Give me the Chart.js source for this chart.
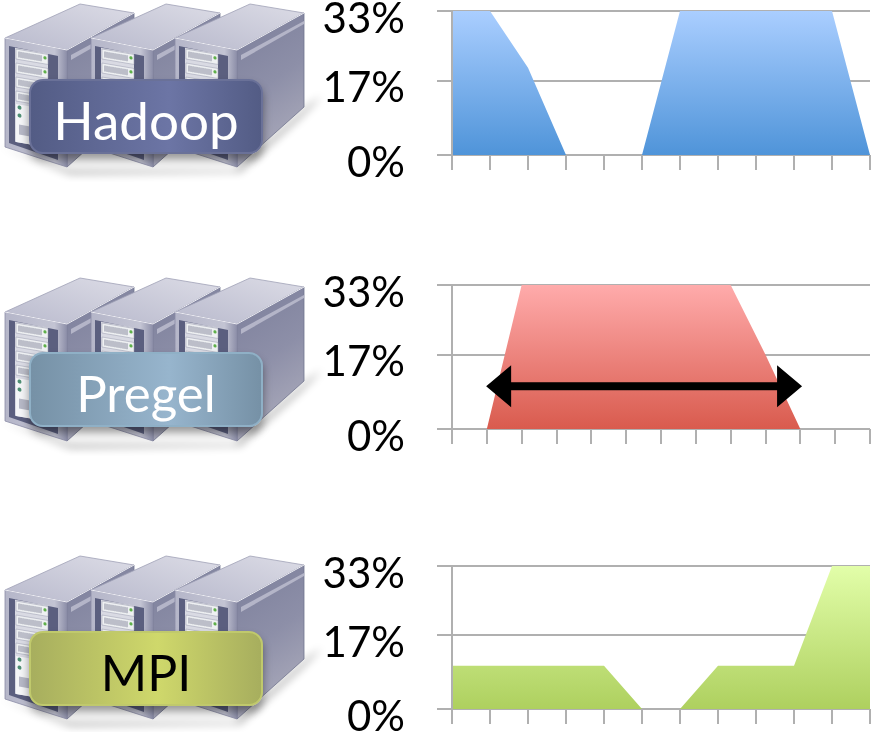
<!DOCTYPE html>
<html>
<head>
<meta charset="utf-8">
<title>Hadoop, Pregel, MPI</title>
<script src="https://cdn.jsdelivr.net/npm/chart.js@4"></script>
<style>
  html, body { margin: 0; background: #fff; }
  #page { position: relative; width: 873px; height: 732px; overflow: hidden; }
  #page canvas { position: absolute; left: 300px; }
  .servers { position: absolute; left: 0; width: 330px; height: 185px; }
  .tag {
    position: absolute; left: 29px; width: 234px; height: 75px; box-sizing: border-box;
    border-radius: 14px; border: 2px solid; text-align: center;
    font: 50px/78px Lato, sans-serif; box-shadow: 0 6px 9px rgba(0,0,0,.4);
  }
  #tagHadoop { top: 79px; font-size: 53px; color: #fff; border-color: #6a7198;
    background: linear-gradient(90deg, #535c85, #6c75a5 60%, #535c85); }
  #tagPregel { top: 352px; font-size: 51px; color: #fff; border-color: #8fb0c6;
    background: linear-gradient(90deg, #7691a6, #97b5cd 60%, #7691a6); }
  #tagMPI { top: 631px; color: #000; border-color: #c0c96c;
    background: linear-gradient(90deg, #a7ae5e, #cfd86b 55%, #a7ae5e); }
</style>
</head>
<body>
<div id="page">
  <svg width="0" height="0" style="position:absolute">
    <defs>
      <linearGradient id="gTop" x1="0" y1="1" x2="1" y2="0">
        <stop offset="0" stop-color="#b9bacd"/><stop offset="1" stop-color="#dcdce6"/>
      </linearGradient>
      <linearGradient id="gSide" x1="0" y1="0" x2="0.3" y2="1">
        <stop offset="0" stop-color="#7c7f9b"/><stop offset=".55" stop-color="#8d8fa8"/><stop offset="1" stop-color="#a9a9ba"/>
      </linearGradient>
      <linearGradient id="gFront" x1="0" y1="0" x2="1" y2="0">
        <stop offset="0" stop-color="#b5b6c9"/><stop offset=".8" stop-color="#c3c4d3"/><stop offset="1" stop-color="#8c8ea8"/>
      </linearGradient>
      <filter id="soft"><feGaussianBlur stdDeviation="4"/></filter>
      <g id="bay">
        <rect width="32" height="10" fill="#eef0f2" stroke="#9a9cb0" stroke-width=".5"/>
        <path d="M3 2V8M5 2V8M7 2V8M9 2V8M11 2V8M13 2V8M15 2V8M17 2V8M19 2V8M21 2V8M23 2V8M25 2V8" stroke="#8a8ca0" stroke-width="1"/>
        <circle cx="29" cy="4" r="1.6" fill="#5fb04a"/>
      </g>
      <g id="rack">
        <polygon points="5,38 80,4 134,13 67,50" fill="url(#gTop)" stroke="#9fa1b6" stroke-width=".8"/>
        <polygon points="67,50 134,13 134,107 67,167" fill="url(#gSide)" stroke="#70738e" stroke-width=".8"/>
        <polygon points="71,55 134,21 134,24 71,60" fill="#b4b5c8"/>
        <polygon points="5,38 67,50 67,167 5,147" fill="url(#gFront)" stroke="#8a8ca6" stroke-width=".8"/>
        <polyline points="5,38 67,50 134,13" fill="none" stroke="#eeeef4" stroke-width="1"/>
        <polygon points="9,46 58,56 58,160 9,143" fill="#5b5f7f"/>
        <g transform="matrix(1 .17 0 1 0 -2.7)">
          <rect x="15" y="48" width="33" height="94" fill="#d9dae3"/>
          <use href="#bay" x="16" y="49"/><use href="#bay" x="16" y="63"/>
          <use href="#bay" x="16" y="77"/><use href="#bay" x="16" y="91"/>
          <rect x="16" y="104" width="32" height="38" fill="#f4f5f7"/>
          <circle cx="19.5" cy="107" r="2" fill="#4f8f74"/><circle cx="19.5" cy="115" r="2" fill="#4f8f74"/>
          <rect x="19" y="124" width="14" height="10" fill="#b6b8c6"/>
        </g>
      </g>
      <g id="rackGroup">
        <polygon points="0,146 70,170 235,170 310,104 322,96 300,118 240,172 70,174" fill="#000" opacity=".35" filter="url(#soft)"/>
        <use href="#rack"/>
        <use href="#rack" x="86"/>
        <use href="#rack" x="170"/>
      </g>
    </defs>
  </svg>

  <svg class="servers" style="top:0"><use href="#rackGroup"/></svg>
  <svg class="servers" style="top:274px"><use href="#rackGroup"/></svg>
  <svg class="servers" style="top:552px"><use href="#rackGroup"/></svg>

  <canvas id="chartHadoop" width="573" height="190" style="top:0"></canvas>
  <canvas id="chartPregel" width="573" height="190" style="top:274px"></canvas>
  <canvas id="chartMPI" width="573" height="177" style="top:555px"></canvas>

  <div class="tag" id="tagHadoop">Hadoop</div>
  <div class="tag" id="tagPregel">Pregel</div>
  <div class="tag" id="tagMPI">MPI</div>
</div>

<script>
/* ---------- DATA ---------- */
const hadoopSteps = ['1','2','3','4','5','6','7','8','9','10','11','12'];
const pregelSteps = ['1','2','3','4','5','6','7','8','9','10','11','12','13'];
const mpiSteps    = ['1','2','3','4','5','6','7','8','9','10','11','12'];

const hadoopValues = [33, 33, 20, 0, 0, 0, 33, 33, 33, 33, 33, 0];
const pregelValues = [0, 0, 33, 33, 33, 33, 33, 33, 33, 17, 0, 0, 0];
const mpiValues    = [10, 10, 10, 10, 10, 0, 0, 10, 10, 10, 33, 33];

const yTickValues = [0, 17, 33];
const yTickLabels = ['0%', '17%', '33%'];

// arrow over the Pregel chart: step positions and height
const arrowSteps  = [0.98, 10.05];
const arrowHeight = 9.8;

const AXIS_GREY = '#b0b0b0';

/* ---------- GRADIENT FILL ---------- */
function areaFill(top, bottom) {
  return function (ctx) {
    const area = ctx.chart.chartArea;
    if (!area) return bottom;
    const g = ctx.chart.ctx.createLinearGradient(0, area.top, 0, area.bottom);
    g.addColorStop(0, top);
    g.addColorStop(1, bottom);
    return g;
  };
}

/* ---------- ARROW (Pregel only) ---------- */
const arrowPlugin = {
  id: 'arrow',
  afterDatasetsDraw(chart) {
    const c = chart.ctx;
    const x0 = chart.scales.x.getPixelForValue(arrowSteps[0]);
    const x1 = chart.scales.x.getPixelForValue(arrowSteps[1]);
    const y  = chart.scales.y.getPixelForValue(arrowHeight);
    c.save();
    c.fillStyle = '#000';
    c.fillRect(x0 + 20, y - 4, x1 - x0 - 40, 8);
    c.beginPath();
    c.moveTo(x0, y); c.lineTo(x0 + 25, y - 21); c.lineTo(x0 + 25, y + 21); c.closePath();
    c.moveTo(x1, y); c.lineTo(x1 - 25, y - 21); c.lineTo(x1 - 25, y + 21); c.closePath();
    c.fill();
    c.restore();
  }
};

/* ---------- ONE AREA CHART ---------- */
function renderArea(id, steps, values, top, bottom, padBottom, plugins) {
  return new Chart(document.getElementById(id), {
    type: 'line',
    data: {
      labels: steps,
      datasets: [{
        data: values,
        fill: 'origin',
        backgroundColor: areaFill(top, bottom),
        borderWidth: 0,
        pointRadius: 0,
        tension: 0
      }]
    },
    plugins: plugins || [],
    options: {
      responsive: false,
      animation: false,
      layout: { autoPadding: false, padding: { top: 11, right: 3, bottom: padBottom, left: 0 } },
      plugins: { legend: { display: false }, tooltip: { enabled: false } },
      scales: {
        x: {
          offset: false,
          ticks: { display: false },
          border: { display: false },
          grid: { drawOnChartArea: false, color: AXIS_GREY, lineWidth: 2, tickLength: 15 }
        },
        y: {
          min: 0,
          max: 33,
          afterBuildTicks: axis => { axis.ticks = yTickValues.map(v => ({ value: v })); },
          afterFit: axis => {
            axis.width = 152;
            // the big tick labels may overhang the plot, as in the original
            axis.paddingTop = 0;
            axis.paddingBottom = 0;
          },
          ticks: {
            padding: 32,
            labelOffset: 8,
            color: '#000',
            font: { family: 'Lato', size: 42 },
            callback: v => yTickLabels[yTickValues.indexOf(v)]
          },
          border: { color: AXIS_GREY, width: 2, z: 1 },
          grid: { color: AXIS_GREY, lineWidth: 2, tickLength: 15 }
        }
      }
    }
  });
}

renderArea('chartHadoop', hadoopSteps, hadoopValues, '#aaceff', '#4f94d9', 20);
renderArea('chartPregel', pregelSteps, pregelValues, '#ffabab', '#d95b4e', 20, [arrowPlugin]);
renderArea('chartMPI', mpiSteps, mpiValues, '#e2fea9', '#aed05f', 8);
</script>
</body>
</html>
